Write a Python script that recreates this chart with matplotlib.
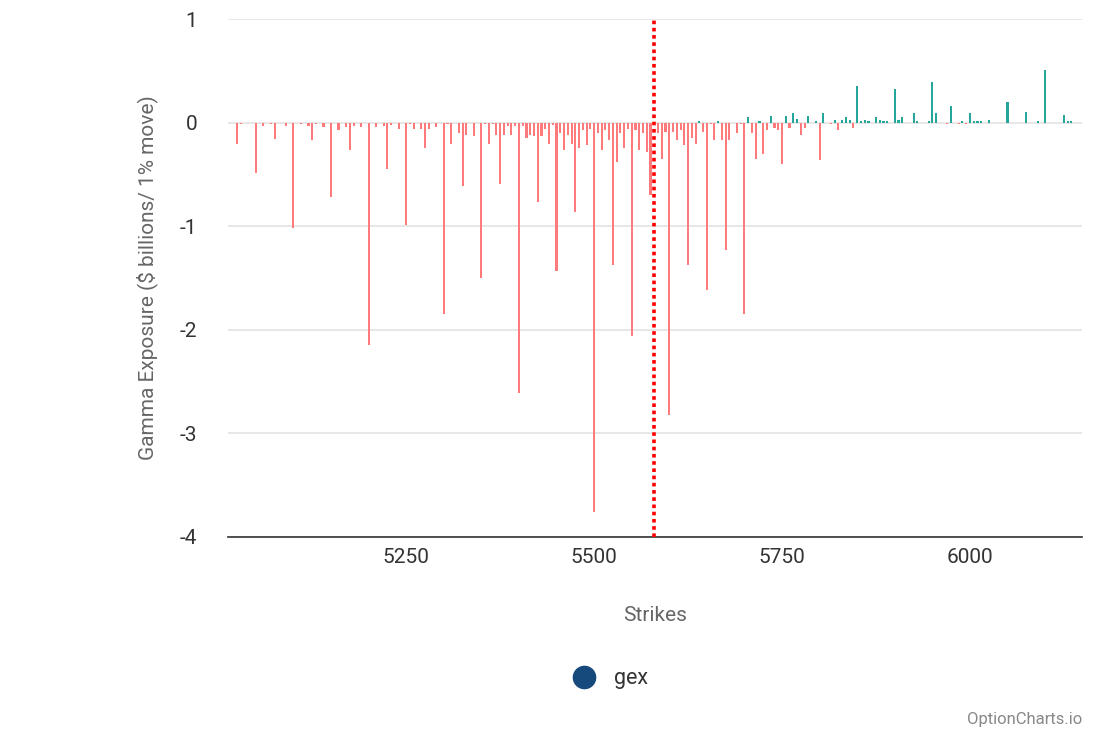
import matplotlib
matplotlib.use("Agg")
import matplotlib.pyplot as plt
from matplotlib.lines import Line2D

plt.rcParams['font.family'] = ['Roboto', 'DejaVu Sans']

strikes = [5025, 5030, 5050, 5060, 5070, 5075, 5090, 5100, 5110, 5120, 5125, 5130, 5140,
           5150, 5160, 5170, 5175, 5180, 5190, 5200, 5210, 5220, 5225, 5230, 5240, 5250,
           5255, 5260, 5270, 5275, 5280, 5290, 5300, 5305, 5310, 5320, 5325, 5330, 5340,
           5350, 5355, 5360, 5365, 5370, 5375, 5380, 5385, 5390, 5395, 5400, 5405, 5410,
           5415, 5420, 5425, 5430, 5435, 5440, 5445, 5450, 5455, 5460, 5465, 5470, 5475,
           5480, 5485, 5490, 5495, 5500, 5505, 5510, 5515, 5520, 5525, 5530, 5535, 5540,
           5545, 5550, 5555, 5560, 5565, 5570, 5575, 5585, 5590, 5595, 5600, 5605, 5610,
           5615, 5620, 5625, 5630, 5635, 5640, 5645, 5650, 5655, 5660, 5665, 5670, 5675,
           5680, 5690, 5695, 5700, 5705, 5710, 5715, 5720, 5725, 5730, 5735, 5740, 5745,
           5750, 5755, 5760, 5765, 5770, 5775, 5780, 5785, 5795, 5800, 5805, 5815, 5820,
           5825, 5830, 5835, 5840, 5845, 5850, 5855, 5860, 5865, 5875, 5880, 5885, 5890,
           5900, 5905, 5910, 5925, 5930, 5945, 5950, 5955, 5970, 5975, 5985, 5990, 5995,
           6000, 6005, 6010, 6015, 6025, 6050, 6075, 6090, 6100, 6125, 6130, 6135]

gex = [-0.21, -0.01, -0.49, -0.03, -0.01, -0.155, -0.03, -1.02, -0.01, -0.03, -0.17, -0.01, -0.04,
       -0.72, -0.07, -0.04, -0.26, -0.03, -0.04, -2.15, -0.04, -0.03, -0.45, -0.02, -0.06, -0.985,
       -0.01, -0.06, -0.06, -0.24, -0.06, -0.04, -1.85, -0.01, -0.21, -0.10, -0.61, -0.12, -0.13,
       -1.50, -0.01, -0.21, -0.01, -0.12, -0.59, -0.12, -0.03, -0.12, -0.03, -2.61, -0.03, -0.15,
       -0.12, -0.13, -0.77, -0.13, -0.06, -0.21, -0.02, -1.43, -0.10, -0.26, -0.12, -0.21, -0.86,
       -0.24, -0.07, -0.22, -0.06, -3.76, -0.10, -0.26, -0.07, -0.17, -1.37, -0.38, -0.10, -0.24,
       -0.06, -2.06, -0.07, -0.26, -0.10, -0.28, -0.70, -0.10, -0.35, -0.09, -2.82, -0.09, -0.17,
       -0.07, -0.22, -1.37, -0.15, -0.21, 0.02, -0.09, -1.62, -0.01, -0.17, 0.02, -0.17, -1.23,
       -0.17, -0.10, -0.01, -1.85, 0.05, -0.10, -0.35, 0.02, -0.30, -0.07, 0.06, -0.05, -0.07,
       -0.40, 0.06, -0.05, 0.09, 0.04, -0.12, -0.05, 0.065, 0.02, -0.36, 0.09, -0.01, 0.03,
       -0.07, 0.03, 0.05, 0.03, -0.05, 0.355, 0.02, 0.03, 0.02, 0.05, 0.03, 0.02, 0.02,
       0.32, 0.03, 0.05, 0.09, 0.02, 0.02, 0.39, 0.09, -0.01, 0.16, -0.01, 0.02, -0.01,
       0.09, 0.02, 0.02, 0.02, 0.03, 0.195, 0.10, 0.02, 0.51, 0.07, 0.02, 0.02]

spot = 5580
x_ticks = [5250, 5500, 5750, 6000]
y_ticks = [1, 0, -1, -2, -3, -4]

NEG = '#ff7b7b'
POS = '#26a69a'

fig = plt.figure(figsize=(11, 7.33), dpi=100)
ax = fig.add_axes([0.2073, 0.2674, 0.9836 - 0.2073, 0.974 - 0.2674])

colors = [POS if v >= 0 else NEG for v in gex]
ax.bar(strikes, gex, width=2.8, color=colors, linewidth=0, zorder=3)

ax.axvline(spot, color='#ff0000', linestyle=(0, (1, 1)), linewidth=2.6, zorder=4)

ax.set_xlim(5013, 6149)
ax.set_ylim(-4, 1)
ax.set_xticks(x_ticks)
ax.set_yticks(y_ticks)
ax.set_yticklabels([str(t) for t in y_ticks])
ax.grid(axis='y', color='#e3e3e3', linewidth=1.2, zorder=0)
ax.grid(axis='x', visible=False)
for s in ['top', 'left', 'right']:
    ax.spines[s].set_visible(False)
ax.spines['bottom'].set_color('#333333')
ax.spines['bottom'].set_linewidth(1.2)
ax.tick_params(axis='both', length=0, labelsize=15, colors='#333333')
ax.tick_params(axis='y', pad=22)
ax.tick_params(axis='x', pad=8)

ax.set_xlabel('Strikes', fontsize=15, color='#666666', labelpad=28)
ax.set_ylabel('Gamma Exposure ($ billions/ 1% move)', fontsize=15, color='#666666', labelpad=16)

handle = Line2D([], [], marker='o', linestyle='none', markersize=16,
                markerfacecolor='#174a7c', markeredgecolor='#174a7c')
fig.legend([handle], ['gex'], loc='center', bbox_to_anchor=(0.55, 0.0737),
           frameon=False, fontsize=15.5, handletextpad=0.4, labelcolor='#333333')

fig.text(0.984, 0.008, 'OptionCharts.io', ha='right', va='bottom', fontsize=12, color='#888888')

fig.savefig('out.png', dpi=100)
